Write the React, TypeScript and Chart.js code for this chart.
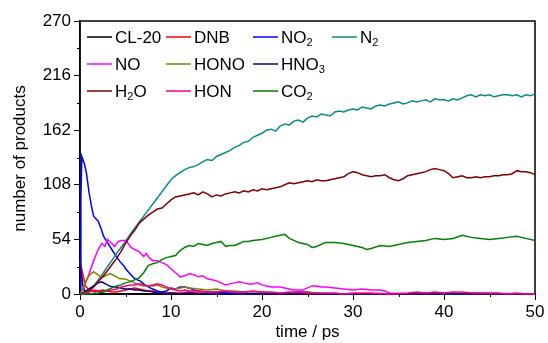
import { useEffect, useRef } from "react";
import { Chart, registerables } from "chart.js";

Chart.register(...registerables);

const FONT = '"Liberation Sans", Arial, Helvetica, sans-serif';

// Product counts vs. simulation time (ps)
const cl20Time = [0, 0.15, 0.3, 0.5, 0.8, 1.2, 50];
const cl20Count = [32, 21, 9, 3, 1, 0, 0];

const dnbTime = [0, 0.3, 0.6, 1, 1.3, 1.6, 2, 2.5, 3, 3.5, 4, 4.5, 5, 5.5, 6, 6.5, 7, 7.5, 8, 8.5, 9, 10, 11, 12, 13, 14, 15, 16, 17, 50];
const dnbCount = [32, 20, 8, 4, 3, 2, 3, 4, 3, 2, 2, 3, 4, 5, 6, 5, 4, 3, 3, 2, 2, 1, 1, 2, 1, 1, 0, 1, 0, 0];

const no2Time = [0, 0.1, 0.2, 0.5, 0.7, 1, 1.3, 1.5, 1.8, 2, 2.3, 2.6, 3, 3.5, 4, 4.4, 4.8, 5.1, 5.5, 5.9, 6.3, 6.6, 7, 7.3, 7.7, 8, 8.5, 9, 9.5, 10, 10.5, 11, 11.5, 12, 12.5, 13, 14, 15, 16, 17, 18, 19, 20, 21, 23, 24, 25, 25.5, 26, 50];
const no2Count = [0, 95, 136, 128, 120, 100, 85, 77, 74, 72, 65, 57, 51, 44, 37, 32, 28, 24, 20, 16, 14, 13, 10, 8, 6, 5, 3, 2, 3, 6, 5, 7, 7, 6, 4, 3, 2, 2, 1, 1, 1, 0, 1, 0, 1, 2, 2, 1, 0, 0];

const n2Time = [0, 0.5, 1, 1.5, 2, 2.5, 3, 3.5, 4, 4.5, 5, 5.5, 6, 6.5, 7, 7.5, 8, 8.5, 9, 9.5, 10, 10.5, 11, 11.5, 12, 12.5,
  13, 13.5, 14, 14.5, 15, 15.5, 16, 16.5, 17, 17.5, 18, 18.5, 19, 19.5, 20, 20.5, 21, 21.5, 22, 22.5, 23, 23.5, 24, 24.5,
  25, 25.5, 26, 26.5, 27, 27.5, 28, 28.5, 29, 29.5, 30, 30.5, 31, 31.5, 32, 32.5, 33, 33.5, 34, 34.5, 35, 35.5, 36, 36.5,
  37, 37.5, 38, 38.5, 39, 39.5, 40, 40.5, 41, 41.5, 42, 42.5, 43, 43.5, 44, 44.5, 45, 45.5, 46, 46.5, 47, 47.5, 48, 48.5,
  49, 49.5, 50];
const n2Count = [0, 0, 3, 8, 14, 20, 27, 33, 40, 46, 52, 59, 65, 71, 77, 83, 89, 95, 101, 107, 113, 117, 120, 123, 125, 126,
  128, 131, 133, 132, 136, 138, 140, 142, 145, 147, 150, 151, 155, 157, 159, 162, 163, 161, 166, 168, 167, 171, 172, 170,
  174, 176, 175, 178, 177, 176, 180, 181, 180, 182, 183, 182, 185, 184, 183, 186, 187, 186, 188, 189, 190, 188, 189, 191,
  190, 191, 192, 190, 193, 192, 192, 191, 193, 192, 194, 196, 197, 195, 197, 196, 197, 195, 196, 197, 197, 196, 197, 195,
  197, 196, 198];

const noTime = [0, 0.5, 1, 1.5, 2, 2.4, 2.75, 3, 3.5, 3.8, 4.2, 4.6, 5, 5.3, 5.6, 6, 6.5, 7, 7.3, 7.6, 8, 8.5, 9, 9.5, 10, 10.5, 11, 11.5, 12, 12.5, 13, 13.5, 14, 14.5, 15, 15.5, 16, 16.5, 17, 17.5, 18, 18.5, 19, 19.5, 20, 20.5, 21, 22, 22.5, 23, 23.5, 24, 24.5, 25, 25.5, 26, 26.5, 27, 28, 29, 30, 31, 32, 33, 33.5, 34, 35, 36, 37, 38, 39, 40, 41, 42, 43, 44, 45, 46, 47, 48, 50];
const noCount = [0, 8, 20, 33, 44, 50, 47, 54, 50, 47, 52, 53, 53, 50, 46, 44, 42, 37, 40, 36, 33, 33, 31, 29, 25, 21, 17, 18, 20, 19, 17, 18, 15, 14, 13, 11, 9, 10, 11, 12, 11, 10, 10, 11, 9, 8, 7, 7, 6, 5, 4, 4, 4, 6, 8, 8, 7, 7, 6, 5, 4, 5, 4, 4, 3, 1, 0.5, 0, 0, 1, 0.5, 1, 1, 0.5, 1, 1, 0.5, 0, 0.5, 0, 0];

const honoTime = [0, 0.3, 0.6, 0.9, 1.2, 1.5, 1.8, 2, 2.3, 2.6, 3, 3.3, 3.6, 4, 4.4, 4.8, 5.2, 5.5, 6, 6.5, 7, 7.5, 8, 8.5, 9, 9.5, 10, 10.5, 11, 11.5, 12, 13, 14, 15, 16, 17, 18, 19, 20, 21, 22, 23, 24, 25, 26, 27, 50];
const honoCount = [0, 5, 12, 17, 20, 22, 20, 19, 17, 17, 19, 20, 19, 17, 15, 15, 14, 13, 11, 9, 8, 8, 8, 9, 7, 6, 5, 5, 6, 7, 6, 5, 4, 5, 3, 3, 2, 2, 2, 1, 1, 1, 1, 2, 1, 0, 0];

const hno3Time = [0, 0.5, 1, 1.5, 2, 2.4, 2.8, 3.2, 3.6, 4, 4.5, 5, 5.5, 6, 6.5, 7, 7.5, 8, 8.5, 9, 9.5, 10, 11, 12, 13, 50];
const hno3Count = [0, 2, 5, 8, 11, 12, 10, 8, 7, 7, 6, 5, 5, 4, 4, 3, 3, 2, 1, 1, 0, 1, 0, 1, 0, 0];

const h2oTime = [0, 0.5, 1, 1.5, 2, 2.5, 3, 3.5, 4, 4.5, 5, 5.5, 6, 6.5, 7, 7.5, 8, 8.5, 9, 9.5, 10, 10.5, 11, 11.5, 12, 12.5,
  13, 13.5, 14, 14.5, 15, 15.5, 16, 16.5, 17, 17.5, 18, 18.5, 19, 19.5, 20, 20.5, 21, 21.5, 22, 22.5, 23, 23.5, 24, 24.5,
  25, 25.5, 26, 26.5, 27, 27.5, 28, 28.5, 29, 29.5, 30, 30.5, 31, 31.5, 32, 32.5, 33, 33.5, 34, 34.5, 35, 35.5, 36, 36.5,
  37, 37.5, 38, 38.5, 39, 39.5, 40, 40.5, 41, 41.5, 42, 42.5, 43, 43.5, 44, 44.5, 45, 45.5, 46, 46.5, 47, 47.5, 48, 48.5,
  49, 49.5, 50];
const h2oCount = [0, 0, 3, 7, 12, 17, 23, 29, 35, 42, 50, 57, 63, 70, 74, 78, 81, 84, 85, 89, 93, 96, 97, 98, 99, 100,
  98, 101, 99, 96, 98, 97, 99, 100, 101, 100, 102, 101, 103, 102, 104, 103, 104, 105, 106, 108, 110, 109, 110, 111,
  112, 111, 113, 112, 112, 113, 114, 115, 116, 119, 121, 120, 118, 117, 116, 117, 117, 118, 115, 113, 112, 114, 117, 118,
  119, 120, 121, 123, 124, 123, 122, 119, 115, 116, 117, 115, 115, 116, 115, 116, 116, 117, 117, 118, 118, 119, 122, 121,
  121, 120, 118];

const honTime = [0, 0.5, 1, 1.5, 2, 2.5, 3, 3.5, 4, 4.5, 5, 5.5, 6, 6.5, 7, 7.5, 8, 8.5, 9, 9.5, 10, 10.5, 11, 11.5, 12, 13, 14, 15, 16, 17, 18, 19, 20, 21, 22, 23, 24, 25, 26, 27, 28, 29, 30, 32, 34, 36, 37, 38, 39, 40, 41, 42, 43, 44, 45, 46, 47, 48, 49, 50];
const honCount = [0, 1, 2, 4, 3, 2, 3, 4, 5, 7, 8, 9, 9, 10, 9, 8, 9, 10, 9, 7, 5, 4, 3, 4, 3, 3, 2, 2, 3, 2, 2, 3, 2, 2, 1, 2, 2, 1, 1, 1, 1, 0, 1, 1, 0, 1, 2, 1, 2, 1, 2, 2, 1, 1, 1, 1, 0, 1, 0, 0];

const co2Time = [0, 1, 2, 2.5, 3, 3.5, 4, 4.5, 5, 5.5, 6, 6.5, 7, 7.5, 8, 8.5, 9, 9.5, 10, 10.5, 11, 11.5, 12, 12.5, 13, 13.5, 14, 14.5, 15, 15.5, 16, 16.5, 17, 17.5, 18, 18.5, 19, 20, 21, 22, 22.5, 23, 23.5, 24, 25, 25.5, 26, 27, 28, 29, 30, 31, 31.5, 32, 33, 34, 35, 36, 37, 38, 39, 40, 41, 42, 43, 44, 45, 46, 47, 48, 49, 50];
const co2Count = [0, 0, 1, 2, 4, 6, 8, 9, 11, 12, 14, 16, 21, 28, 30, 31, 34, 36, 37, 38, 43, 46, 48, 47, 50, 49, 48, 50, 51, 52, 47, 48, 48, 50, 52, 52, 53, 54, 56, 58, 59, 55, 53, 51, 49, 46, 47, 51, 51, 50, 48, 46, 44, 45, 48, 47, 49, 51, 52, 53, 55, 54, 55, 58, 56, 55, 54, 55, 56, 57, 55, 53];

const yTicks = [0, 54, 108, 162, 216, 270];

type Part = [string, boolean];
interface Species {
  parts: Part[];
  color: string;
  time: number[];
  count: number[];
  row: number;
  col: number;
}

const species: Species[] = [
  { parts: [["CL-20", false]], color: "#000000", time: cl20Time, count: cl20Count, row: 0, col: 0 },
  { parts: [["DNB", false]], color: "#ff0000", time: dnbTime, count: dnbCount, row: 0, col: 1 },
  { parts: [["NO", false], ["2", true]], color: "#0000ff", time: no2Time, count: no2Count, row: 0, col: 2 },
  { parts: [["N", false], ["2", true]], color: "#0a8a8a", time: n2Time, count: n2Count, row: 0, col: 3 },
  { parts: [["NO", false]], color: "#ff00ff", time: noTime, count: noCount, row: 1, col: 0 },
  { parts: [["HONO", false]], color: "#808000", time: honoTime, count: honoCount, row: 1, col: 1 },
  { parts: [["HNO", false], ["3", true]], color: "#000090", time: hno3Time, count: hno3Count, row: 1, col: 2 },
  { parts: [["H", false], ["2", true], ["O", false]], color: "#800000", time: h2oTime, count: h2oCount, row: 2, col: 0 },
  { parts: [["HON", false]], color: "#ff0080", time: honTime, count: honCount, row: 2, col: 1 },
  { parts: [["CO", false], ["2", true]], color: "#008000", time: co2Time, count: co2Count, row: 2, col: 2 },
];

const LEGEND_ROWS = [37, 64, 91];
const LEGEND_COLS = [87, 166, 253, 332];
const SAMPLE_LEN = 25;

function drawRich(ctx: CanvasRenderingContext2D, parts: Part[], x: number, y: number) {
  let cx = x;
  for (const [text, sub] of parts) {
    ctx.font = sub ? `11px ${FONT}` : `17px ${FONT}`;
    ctx.fillText(text, cx, sub ? y + 5 : y);
    cx += ctx.measureText(text).width;
  }
}

const framePlugin = {
  id: "frameAndDecor",
  beforeDatasetsDraw(chart: any) {
    const { ctx, chartArea } = chart;
    const { left, right, top, bottom } = chartArea;
    ctx.save();
    ctx.strokeStyle = "#000";
    ctx.lineWidth = 1.5;
    ctx.strokeRect(left, top, right - left, bottom - top);
    // minor ticks
    ctx.lineWidth = 1;
    const xs = chart.scales.x;
    const ys = chart.scales.y;
    ctx.beginPath();
    for (let v = 5; v < 50; v += 10) {
      const px = Math.round(xs.getPixelForValue(v)) + 0.5;
      ctx.moveTo(px, bottom);
      ctx.lineTo(px, bottom + 3);
    }
    for (let v = 27; v < 270; v += 54) {
      const py = Math.round(ys.getPixelForValue(v)) + 0.5;
      ctx.moveTo(left - 3, py);
      ctx.lineTo(left, py);
    }
    ctx.stroke();
    ctx.restore();
  },
  afterDraw(chart: any) {
    const { ctx, chartArea } = chart;
    ctx.save();
    ctx.fillStyle = "#000";
    ctx.textBaseline = "middle";
    ctx.textAlign = "left";
    for (const s of species) {
      const y = LEGEND_ROWS[s.row];
      const x = LEGEND_COLS[s.col];
      ctx.strokeStyle = s.color;
      ctx.lineWidth = 1.5;
      ctx.beginPath();
      ctx.moveTo(x, y);
      ctx.lineTo(x + SAMPLE_LEN, y);
      ctx.stroke();
      drawRich(ctx, s.parts, x + SAMPLE_LEN + 3, y + 1);
    }
    // axis titles
    ctx.font = `17px ${FONT}`;
    ctx.textAlign = "center";
    ctx.fillText("time / ps", (chartArea.left + chartArea.right) / 2, 332);
    ctx.translate(20, (chartArea.top + chartArea.bottom) / 2 + 1);
    ctx.rotate(-Math.PI / 2);
    ctx.fillText("number of products", 0, 0);
    ctx.restore();
  },
};

export default function App() {
  const ref = useRef<HTMLCanvasElement>(null);

  useEffect(() => {
    if (!ref.current) return;
    const datasets = species.map((s, i) => ({
      label: s.parts.map((p) => p[0]).join(""),
      data: s.time.map((t, k) => ({ x: t, y: s.count[k] })),
      borderColor: s.color,
      backgroundColor: s.color,
      borderWidth: 1.5,
      pointRadius: 0,
      tension: 0,
      fill: false,
      clip: false as const,
      order: species.length - i,
    }));

    const chart = new Chart(ref.current, {
      type: "line",
      data: { datasets },
      options: {
        animation: false,
        responsive: false,
        maintainAspectRatio: false,
        layout: { padding: { left: 0, top: 21, right: 13, bottom: 0 } },
        plugins: { legend: { display: false }, tooltip: { enabled: false } },
        scales: {
          x: {
            type: "linear",
            min: 0,
            max: 50,
            afterFit: (scale: any) => {
              scale.height = 49;
            },
            ticks: {
              stepSize: 10,
              color: "#000",
              font: { family: FONT, size: 17 },
              padding: 2,
              maxRotation: 0,
            },
            grid: { drawOnChartArea: false, tickLength: 6, color: "#000", lineWidth: 1 },
            border: { display: true, color: "#000", width: 1.5 },
          },
          y: {
            type: "linear",
            min: 0,
            max: 270,
            afterFit: (scale: any) => {
              scale.width = 80;
            },
            afterBuildTicks: (scale: any) => {
              scale.ticks = yTicks.map((v) => ({ value: v }));
            },
            ticks: {
              color: "#000",
              font: { family: FONT, size: 17 },
              padding: 3,
            },
            grid: { drawOnChartArea: false, tickLength: 6, color: "#000", lineWidth: 1 },
            border: { display: true, color: "#000", width: 1.5 },
          },
        },
      },
      plugins: [framePlugin],
    });
    return () => chart.destroy();
  }, []);

  return (
    <div style={{ position: "absolute", left: 0, top: 0, width: 548, height: 343, background: "#fff" }}>
      <canvas ref={ref} width={548} height={343} style={{ width: 548, height: 343 }} />
    </div>
  );
}
